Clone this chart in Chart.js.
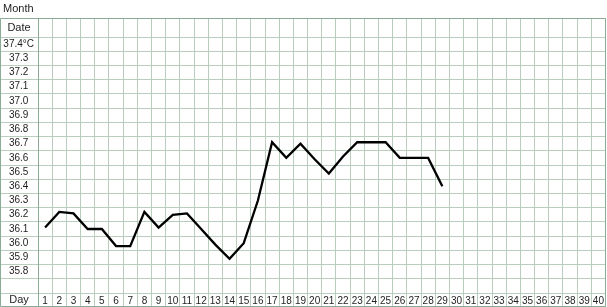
<!DOCTYPE html>
<html>
<head>
<meta charset="utf-8">
<title>Basal temperature chart</title>
<script src="https://cdn.jsdelivr.net/npm/chart.js@4.4.1/dist/chart.umd.min.js"></script>
<style>
  html, body { margin: 0; padding: 0; background: #fff; }
  canvas { display: block; }
</style>
</head>
<body>
<canvas id="bbtChart" width="607" height="307"></canvas>
<script>
// --- DATA ---
const dayLabels = ['1','2','3','4','5','6','7','8','9','10',
                   '11','12','13','14','15','16','17','18','19','20',
                   '21','22','23','24','25','26','27','28','29','30',
                   '31','32','33','34','35','36','37','38','39','40'];

// temperature per day (°C), days 1-29
const temps = [36.11, 36.22, 36.21, 36.10, 36.10, 35.98, 35.98, 36.22, 36.11, 36.20,
               36.21, 36.10, 35.99, 35.89, 36.00, 36.30, 36.71, 36.60, 36.70, 36.59,
               36.49, 36.61, 36.71, 36.71, 36.71, 36.60, 36.60, 36.60, 36.40];

// row labels, top to bottom (last row is blank)
const rowLabels = ['37.4°C','37.3','37.2','37.1','37.0','36.9','36.8','36.7','36.6',
                   '36.5','36.4','36.3','36.2','36.1','36.0','35.9','35.8',''];

// row borders (ascending)
const rowBorders = [35.65, 35.75, 35.85, 35.95, 36.05, 36.15, 36.25, 36.35, 36.45, 36.55,
                    36.65, 36.75, 36.85, 36.95, 37.05, 37.15, 37.25, 37.35, 37.45];

// --- STYLE ---
const FONT = "'Liberation Sans', Arial, Helvetica, sans-serif";
const gridColor = '#b9cdbf';
const frameColor = '#8aab95';
const textColor = '#1e1e1e';
const FRAME_TOP = 18;

function align(px) {
    return Math.round(px - 0.5) + 0.5;
}

// draws the table parts outside the plot area (label column, date row, title)
const tableFrame = {
    id: 'tableFrame',
    afterDraw(chart) {
        const { ctx, chartArea, scales } = chart;
        const xs = scales.x, ys = scales.y;
        const bottom = chart.height - 0.5;
        const right = align(chartArea.right);

        ctx.save();
        ctx.lineWidth = 1;
        ctx.strokeStyle = gridColor;
        ctx.beginPath();
        // horizontal lines through the label column
        rowBorders.forEach(v => {
            const y = align(ys.getPixelForValue(v));
            ctx.moveTo(0, y);
            ctx.lineTo(chartArea.left, y);
        });
        // vertical lines up through the date row
        for (let i = 0; i <= dayLabels.length; i++) {
            const x = align(xs.getPixelForValue(i - 0.5));
            ctx.moveTo(x, FRAME_TOP);
            ctx.lineTo(x, chartArea.top);
        }
        ctx.stroke();

        // outer frame + label column divider
        ctx.strokeStyle = frameColor;
        ctx.beginPath();
        ctx.rect(0.5, FRAME_TOP + 0.5, right - 0.5, bottom - FRAME_TOP - 0.5);
        const lx = align(chartArea.left);
        ctx.moveTo(lx, FRAME_TOP);
        ctx.lineTo(lx, bottom);
        ctx.stroke();

        // texts
        ctx.fillStyle = textColor;
        ctx.textBaseline = 'middle';
        ctx.font = '11px ' + FONT;
        ctx.textAlign = 'left';
        ctx.fillText('Month', 3, 9);
        ctx.textAlign = 'center';
        ctx.fillText('Date', chartArea.left / 2, (FRAME_TOP + chartArea.top) / 2 + 0.5);
        ctx.fillText('Day', chartArea.left / 2, (chartArea.bottom + chart.height) / 2);
        ctx.restore();
    }
};

new Chart(document.getElementById('bbtChart'), {
    type: 'line',
    data: {
        labels: dayLabels,
        datasets: [{
            label: 'Temperature',
            data: temps,
            borderColor: '#000000',
            borderWidth: 2.3,
            pointRadius: 0,
            tension: 0,
            fill: false
        }]
    },
    options: {
        responsive: false,
        animation: false,
        devicePixelRatio: 1,
        layout: { padding: { top: 37, right: 1.5, bottom: 0, left: 0 } },
        plugins: {
            legend: { display: false },
            tooltip: { enabled: false }
        },
        scales: {
            x: {
                type: 'category',
                offset: true,
                grid: { offset: true, color: gridColor, lineWidth: 1, drawTicks: true, tickLength: 14, tickColor: gridColor },
                border: { color: gridColor },
                ticks: {
                    autoSkip: false, maxRotation: 0, minRotation: 0,
                    padding: -12, color: textColor,
                    font: { size: 10, family: FONT }
                },
                afterFit: s => { s.height = 14; }
            },
            y: {
                min: 35.65,
                max: 37.45,
                afterBuildTicks: s => { s.ticks = rowBorders.map(v => ({ value: v })); },
                afterFit: s => { s.width = 38; },
                grid: { color: gridColor, lineWidth: 1, drawTicks: false },
                border: { display: false },
                ticks: {
                    autoSkip: false,
                    crossAlign: 'center',
                    padding: 4,
                    labelOffset: 7,
                    color: textColor,
                    font: { size: 10, family: FONT },
                    callback: (value, index) => rowLabels[rowBorders.length - 1 - index] || ''
                }
            }
        }
    },
    plugins: [tableFrame]
});
</script>
</body>
</html>
